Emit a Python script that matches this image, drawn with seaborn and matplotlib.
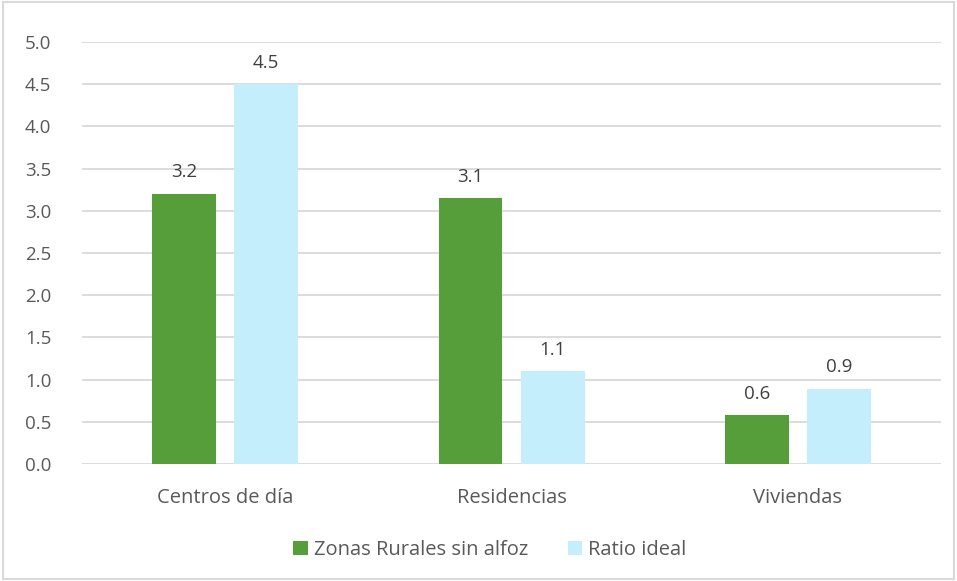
import pandas as pd
import matplotlib.pyplot as plt
import seaborn as sns
from matplotlib.patches import Rectangle

categories = ['Centros de día', 'Residencias', 'Viviendas']
series_names = ['Zonas Rurales sin alfoz', 'Ratio ideal']
rural_values = [3.2, 3.15, 0.58]
ideal_values = [4.5, 1.1, 0.89]
y_ticks = [0.0, 0.5, 1.0, 1.5, 2.0, 2.5, 3.0, 3.5, 4.0, 4.5, 5.0]

sns.set_theme(style="white")
plt.rcParams['font.family'] = ['Open Sans', 'DejaVu Sans']

df = pd.DataFrame({
    'Categoría': categories * 2,
    'Serie': [series_names[0]] * 3 + [series_names[1]] * 3,
    'Valor': rural_values + ideal_values,
})

text_color = '#595959'
grid_color = '#D9D9D9'
palette = {series_names[0]: '#559E3A', series_names[1]: '#C4EEFB'}

fig = plt.figure(figsize=(9.57, 5.81), dpi=100)
ax = fig.add_axes([0.0857, 0.2014, 0.8976, 0.7263])

sns.barplot(data=df, x='Categoría', y='Valor', hue='Serie', order=categories,
            hue_order=series_names, palette=palette, width=0.573, gap=0.22,
            saturation=1, linewidth=0, ax=ax, legend=True, zorder=3)

ax.set_xlim(-0.5, 2.5)
ax.set_ylim(0, 5.0)
ax.set_yticks(y_ticks)
ax.set_yticklabels([f'{t:.1f}' for t in y_ticks])
ax.yaxis.grid(True, color=grid_color, linewidth=1.3, zorder=0)
ax.set_axisbelow(True)
for s in ax.spines.values():
    s.set_visible(False)
ax.tick_params(axis='y', length=0, pad=22, labelsize=13.5, labelcolor=text_color)
ax.tick_params(axis='x', length=0, pad=17, labelsize=14.5, labelcolor=text_color)
ax.set_xlabel('')
ax.set_ylabel('')

for cont in ax.containers:
    ax.bar_label(cont, fmt='%.1f', padding=9, fontsize=13.5, color='#404040')

handles, labels = ax.get_legend_handles_labels()
ax.get_legend().remove()
fig.legend(handles, labels, loc='center', bbox_to_anchor=(0.512, 0.053), ncol=2,
           frameon=False, fontsize=14.5, labelcolor=text_color, handlelength=0.7,
           handleheight=0.7, handletextpad=0.3, columnspacing=2.0)

fig.patches.append(Rectangle((0.003, 0.003), 0.994, 0.994, transform=fig.transFigure,
                             fill=False, edgecolor=grid_color, linewidth=1.5))

fig.savefig('out.png', dpi=100)
